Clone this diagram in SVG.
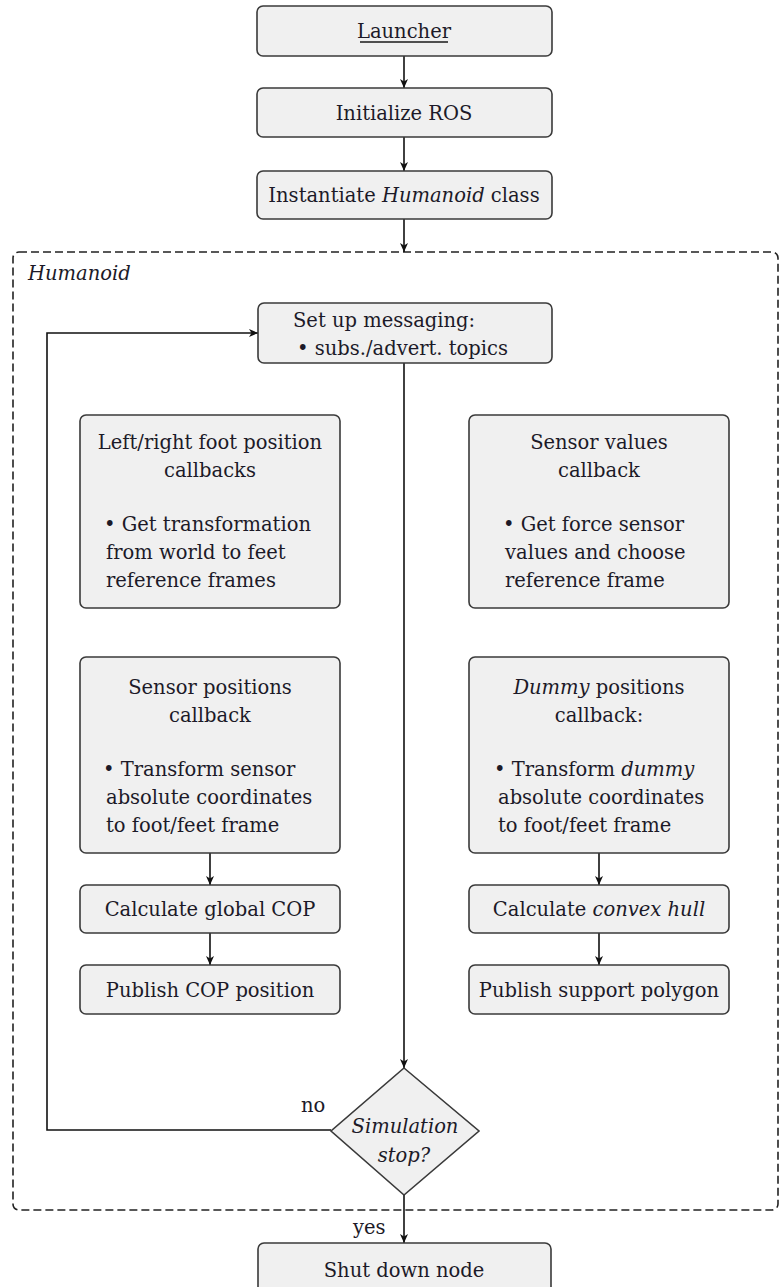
<svg xmlns="http://www.w3.org/2000/svg" width="783" height="1287" viewBox="0 0 783 1287">
<style>
.box{fill:#f0f0f0;stroke:#3a3a3a;stroke-width:1.6}
.t{font-family:"DejaVu Serif","Liberation Serif",serif;font-size:19.5px;fill:#1c1a28}
.c{text-anchor:middle}
.i{font-style:italic}
.ln{fill:none;stroke:#111;stroke-width:1.6}
</style>
<defs>
<marker id="ah" markerWidth="10" markerHeight="10" refX="9" refY="5" orient="auto" markerUnits="userSpaceOnUse">
<path d="M0,1 L9,5 L0,9 L2.5,5 Z" fill="#111"/>
</marker>
</defs>
<rect width="783" height="1287" fill="#fff"/>

<g id="humanoid-frame">
<rect x="13" y="252" width="765" height="958" rx="6" fill="none" stroke="#222" stroke-width="1.6" stroke-dasharray="8,4"/>
<text class="t i" x="28" y="280">Humanoid</text>
</g>

<g id="connectors">
<line class="ln" x1="404" y1="56" x2="404" y2="88" marker-end="url(#ah)"/>
<line class="ln" x1="404" y1="137" x2="404" y2="171" marker-end="url(#ah)"/>
<line class="ln" x1="404" y1="219" x2="404" y2="252" marker-end="url(#ah)"/>
<line class="ln" x1="404" y1="363" x2="404" y2="1068" marker-end="url(#ah)"/>
<polyline class="ln" points="331,1130 47,1130 47,333 258,333" marker-end="url(#ah)"/>
<line class="ln" x1="210" y1="853" x2="210" y2="885" marker-end="url(#ah)"/>
<line class="ln" x1="210" y1="933" x2="210" y2="965" marker-end="url(#ah)"/>
<line class="ln" x1="599" y1="853" x2="599" y2="885" marker-end="url(#ah)"/>
<line class="ln" x1="599" y1="933" x2="599" y2="965" marker-end="url(#ah)"/>
<line class="ln" x1="404" y1="1195" x2="404" y2="1243" marker-end="url(#ah)"/>
<text class="t" x="301" y="1112">no</text>
<text class="t" x="353" y="1234">yes</text>
</g>

<g id="launcher">
<rect class="box" x="257" y="6" width="295" height="50" rx="6"/>
<text class="t c" x="404" y="38">Launcher</text>
<line x1="360" y1="42" x2="448" y2="42" stroke="#1a1a1a" stroke-width="1.3"/>
</g>

<g id="init-ros">
<rect class="box" x="257" y="88" width="295" height="49" rx="6"/>
<text class="t c" x="404" y="120">Initialize ROS</text>
</g>

<g id="instantiate">
<rect class="box" x="257" y="171" width="295" height="48" rx="6"/>
<text class="t c" x="404" y="202">Instantiate <tspan class="i">Humanoid</tspan> class</text>
</g>

<g id="setup-messaging">
<rect class="box" x="258" y="303" width="294" height="60" rx="6"/>
<text class="t" x="293" y="327">Set up messaging:</text>
<text class="t" x="297" y="355">• subs./advert. topics</text>
</g>

<g id="foot-callbacks">
<rect class="box" x="80" y="415" width="260" height="193" rx="6"/>
<text class="t c" x="210" y="449">Left/right foot position</text>
<text class="t c" x="210" y="477">callbacks</text>
<text class="t" x="104" y="531">• Get transformation</text>
<text class="t" x="106" y="559">from world to feet</text>
<text class="t" x="106" y="587">reference frames</text>
</g>

<g id="sensor-values">
<rect class="box" x="469" y="415" width="260" height="193" rx="6"/>
<text class="t c" x="599" y="449">Sensor values</text>
<text class="t c" x="599" y="477">callback</text>
<text class="t" x="503" y="531">• Get force sensor</text>
<text class="t" x="505" y="559">values and choose</text>
<text class="t" x="505" y="587">reference frame</text>
</g>

<g id="sensor-positions">
<rect class="box" x="80" y="657" width="260" height="196" rx="6"/>
<text class="t c" x="210" y="694">Sensor positions</text>
<text class="t c" x="210" y="722">callback</text>
<text class="t" x="103" y="776">• Transform sensor</text>
<text class="t" x="106" y="804">absolute coordinates</text>
<text class="t" x="106" y="832">to foot/feet frame</text>
</g>

<g id="dummy-positions">
<rect class="box" x="469" y="657" width="260" height="196" rx="6"/>
<text class="t c" x="599" y="694"><tspan class="i">Dummy</tspan> positions</text>
<text class="t c" x="599" y="722">callback:</text>
<text class="t" x="494" y="776">• Transform <tspan class="i">dummy</tspan></text>
<text class="t" x="498" y="804">absolute coordinates</text>
<text class="t" x="498" y="832">to foot/feet frame</text>
</g>

<g id="calc-cop">
<rect class="box" x="80" y="885" width="260" height="48" rx="6"/>
<text class="t c" x="210" y="916">Calculate global COP</text>
</g>

<g id="publish-cop">
<rect class="box" x="80" y="965" width="260" height="49" rx="6"/>
<text class="t c" x="210" y="997">Publish COP position</text>
</g>

<g id="calc-hull">
<rect class="box" x="469" y="885" width="260" height="48" rx="6"/>
<text class="t c" x="599" y="916">Calculate <tspan class="i">convex hull</tspan></text>
</g>

<g id="publish-polygon">
<rect class="box" x="469" y="965" width="260" height="49" rx="6"/>
<text class="t c" x="599" y="997">Publish support polygon</text>
</g>

<g id="sim-stop">
<polygon points="404,1068 479,1131 404,1195 331,1131" fill="#f0f0f0" stroke="#3a3a3a" stroke-width="1.6"/>
<text class="t c i" x="405" y="1133">Simulation</text>
<text class="t c i" x="404" y="1162">stop?</text>
</g>

<g id="shutdown">
<rect class="box" x="258" y="1243" width="293" height="60" rx="6"/>
<text class="t c" x="404" y="1277">Shut down node</text>
</g>
</svg>
